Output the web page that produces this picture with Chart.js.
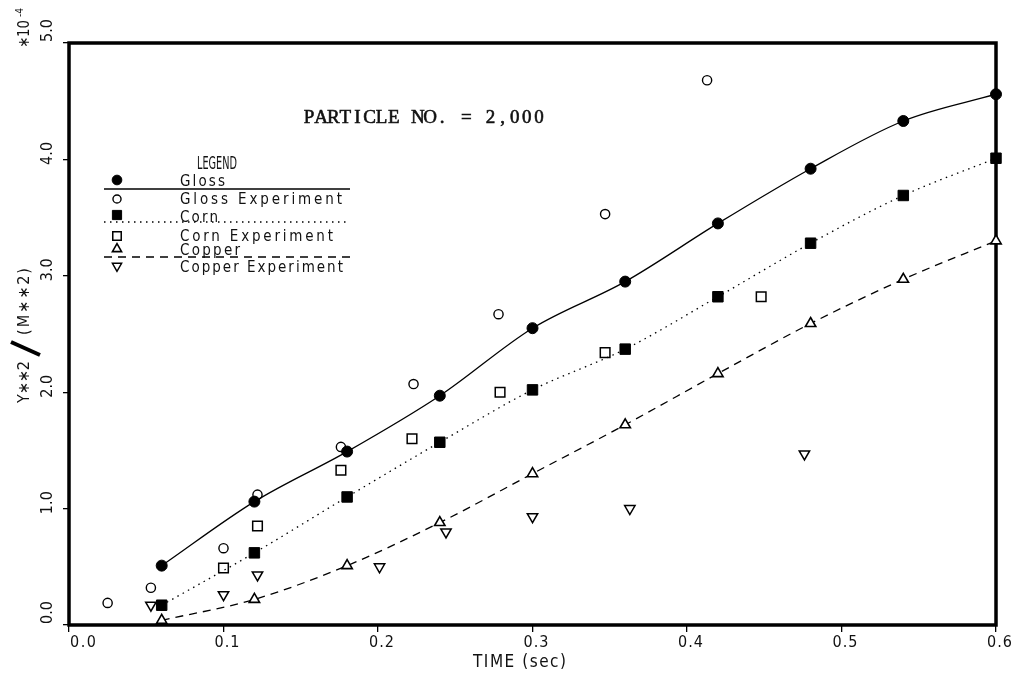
<!DOCTYPE html>
<html>
<head>
<meta charset="utf-8">
<script src="https://cdn.jsdelivr.net/npm/chart.js@4/dist/chart.umd.min.js"></script>
<style>
  html, body { margin: 0; padding: 0; background: #fff; }
  #wrap { width: 1017px; height: 681px; }
</style>
</head>
<body>
<div id="wrap"><canvas id="c" width="1017" height="681"></canvas></div>
<script>
// ---- data (Y**2/(M**2), units of 1e-4, against time in seconds) ----
const modelTime      = [0.06, 0.12, 0.18, 0.24, 0.30, 0.36, 0.42, 0.48, 0.54, 0.60];
const glossValue     = [0.51, 1.06, 1.49, 1.97, 2.55, 2.95, 3.45, 3.92, 4.33, 4.56];
const cornValue      = [0.17, 0.62, 1.10, 1.57, 2.02, 2.37, 2.82, 3.28, 3.69, 4.01];
const copperValue    = [0.04, 0.22, 0.51, 0.88, 1.30, 1.72, 2.16, 2.59, 2.97, 3.30];

const glossExpTime   = [0.025, 0.053, 0.100, 0.122, 0.176, 0.223, 0.278, 0.347, 0.413];
const glossExpValue  = [0.19, 0.32, 0.66, 1.12, 1.53, 2.07, 2.67, 3.53, 4.68];
const cornExpTime    = [0.100, 0.122, 0.176, 0.222, 0.279, 0.347, 0.448];
const cornExpValue   = [0.49, 0.85, 1.33, 1.60, 2.00, 2.34, 2.82];
const copperExpTime  = [0.053, 0.100, 0.122, 0.201, 0.244, 0.300, 0.363, 0.476];
const copperExpValue = [0.17, 0.26, 0.43, 0.50, 0.80, 0.93, 1.00, 1.47];

const seriesNames  = ['Gloss', 'Gloss Experiment', 'Corn', 'Corn Experiment', 'Copper', 'Copper Experiment'];
const xTickLabels  = ['0.0', '0.1', '0.2', '0.3', '0.4', '0.5', '0.6'];
const yTickLabels  = ['0.0', '1.0', '2.0', '3.0', '4.0', '5.0'];
const xAxisTitle   = 'TIME (sec)';
const yTitleLeft   = 'Y\u2217\u22172';
const yTitleRight  = '(M\u2217\u22172)';
const yScaleNote   = '\u221710';
const yScaleExp    = '-4';
const headerText   = 'PARTICLE NO. = 2,000';
const legendHeader = 'LEGEND';

const pts = (xs, ys) => xs.map((x, i) => ({ x, y: ys[i] }));

const PLOT_FONT = '"DejaVu Sans Condensed", "DejaVu Sans", sans-serif';
const INK = '#111';

const datasets = [
  { label: seriesNames[0], data: pts(modelTime, glossValue), showLine: true,
    borderColor: '#000', borderWidth: 1.3, cubicInterpolationMode: 'monotone',
    pointStyle: 'circle', pointRadius: 5.5, pointBackgroundColor: '#000', pointBorderColor: '#000', pointBorderWidth: 1 },
  { label: seriesNames[1], data: pts(glossExpTime, glossExpValue), showLine: false,
    pointStyle: 'circle', pointRadius: 4.6, pointBackgroundColor: '#fff', pointBorderColor: '#000', pointBorderWidth: 1.4 },
  { label: seriesNames[2], data: pts(modelTime, cornValue), showLine: true,
    borderColor: '#000', borderWidth: 1.3, borderDash: [1.5, 4.5], cubicInterpolationMode: 'monotone',
    pointStyle: 'rect', pointRadius: 7.4, pointBackgroundColor: '#000', pointBorderColor: '#000', pointBorderWidth: 1 },
  { label: seriesNames[3], data: pts(cornExpTime, cornExpValue), showLine: false,
    pointStyle: 'rect', pointRadius: 6.8, pointBackgroundColor: '#fff', pointBorderColor: '#000', pointBorderWidth: 1.5 },
  { label: seriesNames[4], data: pts(modelTime, copperValue), showLine: true,
    borderColor: '#000', borderWidth: 1.3, borderDash: [8, 6], cubicInterpolationMode: 'monotone',
    pointStyle: 'triangle', pointRadius: 6, pointBackgroundColor: '#fff', pointBorderColor: '#000', pointBorderWidth: 1.6 },
  { label: seriesNames[5], data: pts(copperExpTime, copperExpValue), showLine: false,
    pointStyle: 'triangle', pointRotation: 180, pointRadius: 6, pointBackgroundColor: '#fff', pointBorderColor: '#000', pointBorderWidth: 1.5 }
];
datasets.forEach(d => { d.clip = false; d.backgroundColor = d.pointBackgroundColor; });

// text helper: make a string fill a given width (spread letters, or squeeze horizontally)
function fitText(ctx, text, x, y, width) {
  ctx.letterSpacing = '0px';
  const w = ctx.measureText(text).width;
  if (w > width) {
    ctx.save();
    ctx.translate(x, y);
    ctx.scale(width / w, 1);
    ctx.fillText(text, 0, 0);
    ctx.restore();
    return;
  }
  const sp = text.length > 1 ? (width - w) / (text.length - 1) : 0;
  ctx.letterSpacing = sp.toFixed(2) + 'px';
  ctx.fillText(text, x, y);
  ctx.letterSpacing = '0px';
}

// typewriter-style text: each character centred in an equal cell
function gridText(ctx, text, x, y, cell) {
  const align = ctx.textAlign;
  ctx.textAlign = 'center';
  for (let i = 0; i < text.length; i++) {
    const cx = x + cell * (i + 0.5);
    ctx.fillText(text[i], cx, y);
    ctx.strokeText(text[i], cx, y);
  }
  ctx.textAlign = align;
}

const decorations = {
  id: 'decorations',
  beforeDatasetsDraw(chart) {
    const { ctx, chartArea: a } = chart;
    ctx.save();
    ctx.strokeStyle = '#000';
    ctx.lineWidth = 3.5;
    ctx.strokeRect(a.left, a.top, a.right - a.left, a.bottom - a.top);
    ctx.restore();
  },
  afterDraw(chart) {
    const { ctx } = chart;
    const xs = chart.scales.x, ys = chart.scales.y;
    ctx.save();
    ctx.fillStyle = INK;

    // x tick labels
    ctx.font = '16px ' + PLOT_FONT;
    ctx.textBaseline = 'middle';
    xs.ticks.forEach((t, i) => {
      const px = xs.getPixelForValue(t.value);
      if (i === 0) { ctx.textAlign = 'left'; fitText(ctx, xTickLabels[i], px + 1, 643, 26); }
      else { ctx.textAlign = 'center'; fitText(ctx, xTickLabels[i], px + 4, 643, 25); }
    });

    // x axis title
    ctx.font = '17px ' + PLOT_FONT;
    ctx.textAlign = 'left';
    fitText(ctx, xAxisTitle, 473, 663, 93);

    // y tick labels, rotated
    ctx.font = '16px ' + PLOT_FONT;
    ys.ticks.forEach((t, i) => {
      const py = ys.getPixelForValue(t.value);
      ctx.save();
      ctx.translate(48, py);
      ctx.rotate(-Math.PI / 2);
      const last = ys.ticks.length - 1;
      if (i === 0 || i === last) { ctx.textAlign = 'left'; fitText(ctx, yTickLabels[i], 1, 0, 23); }
      else { ctx.textAlign = 'center'; fitText(ctx, yTickLabels[i], 6, 0, 23); }
      ctx.restore();
    });

    // y axis title with heavy slash
    ctx.save();
    ctx.translate(25, 335);
    ctx.rotate(-Math.PI / 2);
    ctx.font = '16px ' + PLOT_FONT;
    ctx.textAlign = 'left';
    ctx.textBaseline = 'middle';
    fitText(ctx, yTitleLeft, -68, 0, 42);
    fitText(ctx, yTitleRight, 0, 0, 67);
    ctx.strokeStyle = '#000';
    ctx.lineWidth = 4;
    ctx.lineCap = 'butt';
    ctx.beginPath();
    ctx.moveTo(-20, 15);
    ctx.lineTo(-7, -14);
    ctx.stroke();
    ctx.restore();

    // scale multiplier note
    ctx.save();
    ctx.translate(25, 48);
    ctx.rotate(-Math.PI / 2);
    ctx.textAlign = 'left';
    ctx.textBaseline = 'middle';
    ctx.font = '16px ' + PLOT_FONT;
    fitText(ctx, yScaleNote, 0, 0, 28);
    ctx.font = '11px ' + PLOT_FONT;
    fitText(ctx, yScaleExp, 31, -5, 9);
    ctx.restore();

    // header annotation
    ctx.font = '19px "Liberation Serif", serif';
    ctx.textAlign = 'left';
    ctx.textBaseline = 'middle';
    ctx.strokeStyle = INK;
    ctx.lineWidth = 0.6;
    gridText(ctx, headerText, 303, 118, 12.1);

    // legend
    ctx.font = '17px ' + PLOT_FONT;
    fitText(ctx, legendHeader, 197, 165, 40);
    const rows = [
      { y: 180, ty: 182 }, { y: 199, ty: 200 }, { y: 215, ty: 218 },
      { y: 236, ty: 237 }, { y: 249, ty: 251 }, { y: 266, ty: 268 }
    ];
    const textWidths = [45, 162, 38, 153, 60, 163];
    datasets.forEach((d, i) => {
      ctx.fillStyle = d.pointBackgroundColor;
      ctx.strokeStyle = d.pointBorderColor;
      ctx.lineWidth = d.pointBorderWidth;
      Chart.helpers.drawPoint(ctx, {
        pointStyle: d.pointStyle, rotation: d.pointRotation || 0,
        radius: d.pointRadius * 0.88, borderWidth: d.pointBorderWidth
      }, 117, rows[i].y);
      ctx.fillStyle = INK;
      ctx.font = '15px ' + PLOT_FONT;
      ctx.textAlign = 'left';
      fitText(ctx, d.label, 180, rows[i].ty, textWidths[i]);
    });
    // legend line samples
    const samples = [[0, 189], [2, 222], [4, 257]];
    samples.forEach(([i, y]) => {
      const d = datasets[i];
      ctx.strokeStyle = d.borderColor;
      ctx.lineWidth = d.borderWidth;
      ctx.setLineDash(d.borderDash || []);
      ctx.beginPath();
      ctx.moveTo(104, y);
      ctx.lineTo(350, y);
      ctx.stroke();
    });
    ctx.setLineDash([]);
    ctx.restore();
  }
};

new Chart(document.getElementById('c'), {
  type: 'scatter',
  data: { datasets },
  options: {
    responsive: false,
    animation: false,
    devicePixelRatio: 1,
    layout: { padding: { top: 43, right: 21, left: 0, bottom: 0 } },
    plugins: { legend: { display: false }, tooltip: { enabled: false } },
    scales: {
      x: {
        type: 'linear', min: 0, max: 0.6,
        ticks: { stepSize: 0.1, display: false },
        grid: { drawOnChartArea: false, drawTicks: true, tickLength: 7, color: '#000', lineWidth: 1.3 },
        border: { display: false },
        afterFit(s) { s.height = 56; }
      },
      y: {
        type: 'linear', min: 0, max: 5,
        ticks: { stepSize: 1, display: false },
        grid: { drawOnChartArea: false, drawTicks: true, tickLength: 6, color: '#000', lineWidth: 1.3 },
        border: { display: false },
        afterFit(s) { s.width = 69; }
      }
    }
  },
  plugins: [decorations]
});
</script>
</body>
</html>
